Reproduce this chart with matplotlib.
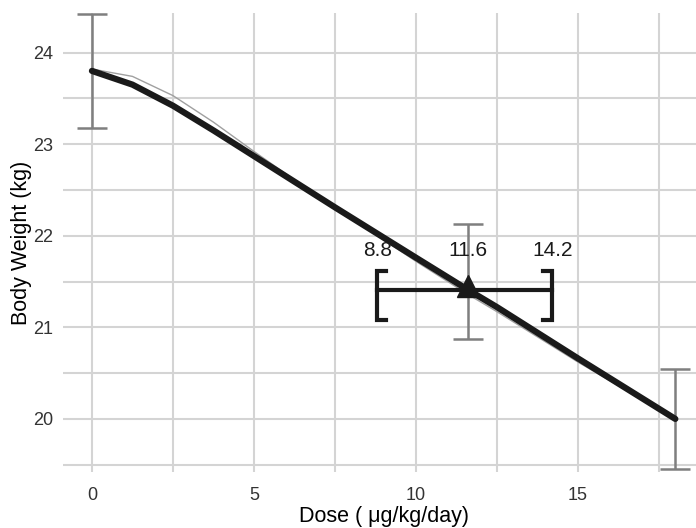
import matplotlib.pyplot as plt
from matplotlib.ticker import MultipleLocator

plt.rcParams['font.family'] = ['Liberation Sans', 'DejaVu Sans']

# ---Data---
fit_dose = [0, 1.25, 2.5, 3.75, 5, 7.5, 10, 11.6, 12.5, 15, 18]
fit_weight = [23.80, 23.65, 23.42, 23.15, 22.87, 22.31, 21.76, 21.41, 21.22, 20.66, 20.00]

model_dose = [0, 1.25, 2.5, 3.75, 5, 6.25, 7.5, 10, 11.6, 12.5, 15, 18]
model_weight = [23.82, 23.74, 23.53, 23.24, 22.92, 22.61, 22.31, 21.72, 21.36, 21.17, 20.62, 20.00]

obs_dose = [0, 11.6, 18]
obs_mean = [23.80, 21.50, 20.00]
obs_err = [0.62, 0.63, 0.55]

bmd = 11.6
bmd_low = 8.8
bmd_high = 14.2
bmd_weight = 21.41

fig = plt.figure(figsize=(6.96, 5.28), dpi=100)
ax = fig.add_axes([0.0902, 0.106, 0.922, 0.869])

# error bars
ax.errorbar(obs_dose, obs_mean, yerr=obs_err, fmt='none', ecolor='#7f7f7f',
            elinewidth=1.8, capsize=10.5, capthick=1.8, zorder=3)

# thin model curve, thick fitted curve
ax.plot(model_dose, model_weight, color='#a0a0a0', lw=1.0, zorder=4)
ax.plot(fit_dose, fit_weight, color='#1a1a1a', lw=4.5, solid_capstyle='round',
        solid_joinstyle='round', zorder=5)

# confidence bracket
ax.plot([bmd_low, bmd_high], [bmd_weight, bmd_weight], color='#1a1a1a', lw=3, zorder=6)
dx, up, down = 0.28, 0.21, 0.33
ax.plot([bmd_low + dx, bmd_low, bmd_low, bmd_low + dx],
        [bmd_weight + up, bmd_weight + up, bmd_weight - down, bmd_weight - down],
        color='#1a1a1a', lw=3, solid_joinstyle='miter', zorder=6)
ax.plot([bmd_high - dx, bmd_high, bmd_high, bmd_high - dx],
        [bmd_weight + up, bmd_weight + up, bmd_weight - down, bmd_weight - down],
        color='#1a1a1a', lw=3, solid_joinstyle='miter', zorder=6)
ax.plot([bmd], [bmd_weight + 0.04], marker='^', color='#1a1a1a', markersize=16, zorder=7)

for v in [bmd_low, bmd, bmd_high]:
    ax.text(v, bmd_weight + 0.43, f'{v:.1f}', ha='center', va='center',
            fontsize=15, color='#1a1a1a')

ax.set_xlim(-0.9, 18.9)
ax.set_ylim(19.42, 24.43)
ax.xaxis.set_major_locator(MultipleLocator(5))
ax.xaxis.set_minor_locator(MultipleLocator(2.5))
ax.yaxis.set_major_locator(MultipleLocator(1))
ax.yaxis.set_minor_locator(MultipleLocator(0.5))
ax.grid(True, which='both', color='#d4d4d4', lw=1.5, zorder=0)
ax.set_axisbelow(True)
for s in ax.spines.values():
    s.set_visible(False)
ax.tick_params(which='both', length=0, labelsize=13, labelcolor='#333333')
ax.tick_params(axis='x', pad=11)
ax.tick_params(axis='y', pad=7)

ax.set_xlabel('Dose ( μg/kg/day)', fontsize=15.5, labelpad=1)
ax.set_ylabel('Body Weight (kg)', fontsize=15.5, labelpad=1)

fig.savefig('out.png', dpi=100)
